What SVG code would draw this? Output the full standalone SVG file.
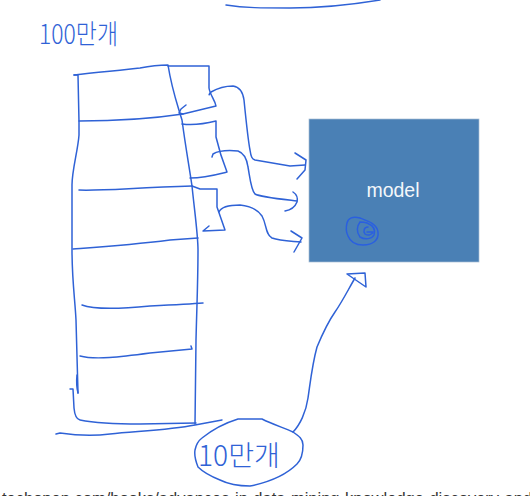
<svg xmlns="http://www.w3.org/2000/svg" width="530" height="496" viewBox="0 0 530 496">
<style>
.s{fill:none;stroke:#2f62d6;stroke-width:1.5;stroke-linecap:round;stroke-linejoin:round}
.h{font-family:"Noto Sans CJK KR","Noto Sans",sans-serif;fill:#2f62d6;font-weight:300}
.f{font-family:"Liberation Sans",Arial,sans-serif}
</style>
<rect width="530" height="496" fill="#fff"/>
<path class="s" d="M226 5C245 8 262 8 290 8C320 8 350 5 380 0"/>
<text class="h" x="39" y="44" font-size="27" textLength="79" lengthAdjust="spacingAndGlyphs">100만개</text>
<g id="table">
<path class="s" d="M74 75L78 75L79 122L79 135C78 150 72 170 72 185L72 250C72 280 75 300 76 320L78 393"/>
<path class="s" stroke-width="2" d="M77 375Q76 385 78 393"/>
<path class="s" d="M70 389L73 389L74 408Q75 419 80 420Q100 424 140 424L196 423"/>
<path class="s" d="M74 75C100 72 125 70 140 68C150 66 158 65 168 65C172 90 176 100 182 120C186 150 189 165 192 186C195 215 198 235 198 250C198 280 197 300 196 340L195 424"/>
<path class="s" d="M79 121C110 121 150 119 183 114"/>
<path class="s" d="M79 190C100 191 130 188 192 186"/>
<path class="s" d="M73 249C100 247 130 245 170 240L198 238"/>
<path class="s" d="M82 305C95 310 120 309 150 306C170 305 190 304 203 303"/>
<path class="s" d="M80 356C95 360 120 357 150 353L192 349L191 346"/>
<path class="s" d="M56 434L60 433C80 436 95 436 110 434C140 431 170 430 195 425L222 420"/>
</g>
<g id="connectors">
<path class="s" d="M168 66L209 66L209 88C210 95 215 100 216 106L183 114L179 113L181 109L186 105"/>
<path class="s" d="M182 124C190 125 200 125 216 121L216 137C219 150 223 162 227 172C215 175 205 178 190 178"/>
<path class="s" d="M192 186L200 189L217 189L217 207L225 230L203 231L209 226"/>
<path class="s" d="M211 92C208 95 209 96 211 92C218 88 226 86 233 86C240 87 243 93 244 100C246 120 248 140 250 150C251 157 252 159 255 160L290 166L305 165"/>
<path class="s" d="M295 153L306 160L305 170L297 179"/>
<path class="s" d="M212 157L213 154C218 151 227 150 238 151C244 153 247 160 248 167C250 178 251 190 255 194C260 197 280 199 297 201"/>
<path class="s" d="M293 192C296 194 298 198 297 202C295 207 291 210 285 211"/>
<path class="s" d="M219 212C221 207 230 205 240 205C250 206 258 210 262 216C267 225 265 234 272 238C280 241 290 241 301 242"/>
<path class="s" d="M291 231L302 238L294 252"/>
<path class="s" d="M293 432C300 425 306 412 308 398C310 385 312 365 317 347C322 335 328 322 335 312C342 302 348 290 355 278"/>
<path class="s" d="M347 274L365 273L366 287Z"/>
</g>
<g id="model">
<rect x="309" y="119" width="170" height="143" fill="#4a80b5" stroke="#a7bdd3" stroke-width="0.7"/>
<text class="f" x="393" y="197" font-size="19.5" fill="#f4f7fa" text-anchor="middle">model</text>
<path class="s" style="stroke:#2a5fe0" d="M347 223C348 218 353 216 360 218C368 221 377 224 378 232C379 240 373 245 363 245C355 245 350 241 348 236C346 232 346 227 347 223"/>
<path class="s" style="stroke:#2a5fe0" d="M360 222C357 226 356 232 360 237C365 240 372 239 374 235C376 229 372 225 367 223C364 222 362 222 360 222"/>
<path class="s" style="stroke:#2a5fe0" d="M368 227C364 227 363 231 365 234C368 236 372 235 373 232L367 232"/>
</g>
<g id="subset">
<path class="s" d="M195 450C196 445 198 441 202 438C212 430 225 423 238 419L262 419C272 424 284 428 293 432C299 436 303 439 303 445C303 452 302 459 297 464C287 474 270 482 250 486C238 486 228 484 220 480C210 476 203 472 198 467C196 462 194 456 195 450Z"/>
<text class="h" x="198" y="466" font-size="28" textLength="82" lengthAdjust="spacingAndGlyphs">10만개</text>
</g>
<text class="f" x="2" y="504" font-size="16.5" fill="#333">techopen.com/books/advances-in-data-mining-knowledge-discovery-and</text>
</svg>
